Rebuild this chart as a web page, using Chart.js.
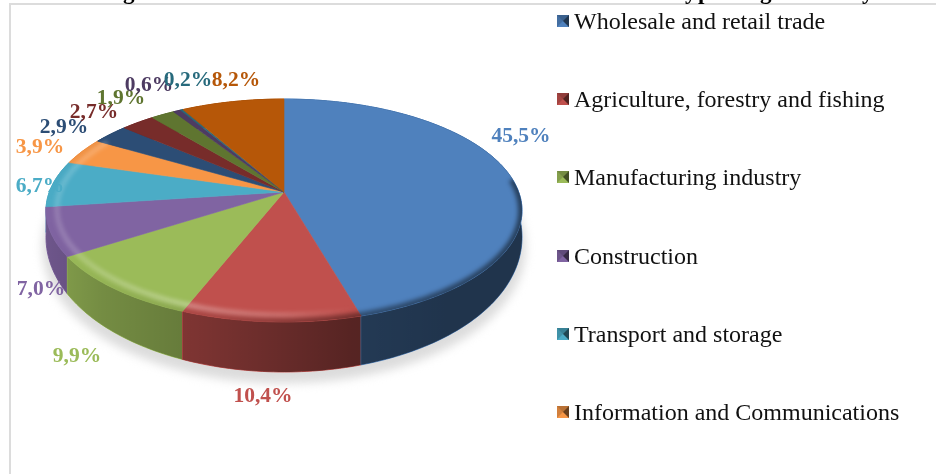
<!DOCTYPE html>
<html>
<head>
<meta charset="utf-8">
<script src="https://cdn.jsdelivr.net/npm/chart.js@4"></script>
<style>
  html, body { margin: 0; padding: 0; background: #fff; }
  #wrap { position: relative; width: 936px; height: 474px; overflow: hidden; font-family: "Liberation Serif", serif; }
  #pie { position: absolute; left: 0; top: 0; }
  #frame { position: absolute; left: 9px; top: 3px; right: -4px; bottom: -4px; border: 2px solid #dcdcdc; }
  .title-bit { position: absolute; font-weight: bold; font-size: 23px; line-height: 23px; color: #000; top: -20px; }
  .legend-row { position: absolute; left: 557px; height: 26px; line-height: 26px; font-size: 24px; color: #111; white-space: nowrap; }
  .legend-row i { position: absolute; left: 0; top: 7px; width: 0; height: 0; border-style: solid; border-width: 6.5px; }
  .legend-row span { position: absolute; left: 17px; top: 0; }
</style>
</head>
<body>
<div id="wrap">
  <canvas id="pie" width="936" height="474"></canvas>
  <div id="frame"></div>
  <div id="legend"></div>
  <div id="titleBits"></div>
</div>
<script>
// legend only shows the first six, the rest of the slices have no readable name
const categories = ["Wholesale and retail trade", "Agriculture, forestry and fishing", "Manufacturing industry",
    "Construction", "Transport and storage", "Information and Communications"];
const shares = [45.5, 10.4, 9.9, 7.0, 6.7, 3.9, 2.9, 2.7, 1.9, 0.6, 0.2, 8.2];
const shareLabels = ["45,5%", "10,4%", "9,9%", "7,0%", "6,7%", "3,9%", "2,9%", "2,7%", "1,9%", "0,6%", "0,2%", "8,2%"];
const colors = ["#4F81BD", "#C0504D", "#9BBB59", "#8064A2", "#4BACC6", "#F79646",
    "#2C4D75", "#772C2A", "#5F7530", "#4D3B62", "#276A7C", "#B65708"];

// where each % label sits (centre of text), the labels were hand placed in the original
const LABEL_POS = [[521, 136], [263, 396], [77, 356], [41, 289], [40, 186], [40, 147],
    [64, 127], [94, 112], [121, 98], [149, 85], [188, 80], [236, 80]];
const LEGEND_TOP = 8, LEGEND_STEP = 78.2;
const TITLE_BITS = [["g", 123], ["y", 685], ["p", 698], ["g", 760], ["y", 862]];

// perspective of the tilted disc
const HUB_X = 284, HUB_Y = 192, SCALE_X = 234.7, SCALE_Y = 108.4, TILT = 0.166;
const WALL_MIN = 22, WALL_GROW = 28;

function project(angle, r) {
    const u = r * Math.cos(angle), v = r * Math.sin(angle);
    const w = 1 - TILT * v;
    return { x: HUB_X + SCALE_X * u / w, y: HUB_Y + SCALE_Y * v / w };
}

function wallDepth(angle) {
    return WALL_MIN + WALL_GROW * Math.max(0, Math.sin(angle));
}

function sweep(a0, a1) {
    const out = [];
    const n = Math.max(2, Math.ceil((a1 - a0) / 0.02));
    for (let i = 0; i <= n; i++) out.push(a0 + (a1 - a0) * i / n);
    return out;
}

function tracePoly(ctx, pts) {
    ctx.beginPath();
    pts.forEach((p, i) => i ? ctx.lineTo(p.x, p.y) : ctx.moveTo(p.x, p.y));
    ctx.closePath();
}

function outline() {
    return sweep(0, Math.PI * 2).map(a => project(a, 1));
}

function drawShadow(ctx) {
    const pts = sweep(0, Math.PI * 2).map(a => {
        const p = project(a, 1.015);
        return { x: p.x, y: p.y + wallDepth(a) + 9 };
    });
    ctx.save();
    ctx.filter = 'blur(5px)';
    ctx.fillStyle = '#dcdcdc';
    tracePoly(ctx, pts);
    ctx.fill();
    ctx.restore();
}

function drawWall(ctx, arc, color) {
    const angles = sweep(arc.startAngle, arc.endAngle);
    const top = angles.map(a => project(a, 1));
    const bottom = angles.map(a => {
        const p = project(a, 1);
        return { x: p.x, y: p.y + wallDepth(a) };
    }).reverse();
    const pts = top.concat(bottom);
    ctx.fillStyle = color;
    ctx.strokeStyle = color;
    tracePoly(ctx, pts);
    ctx.fill();
    ctx.stroke();
    // walls get darker towards the right
    const g = ctx.createLinearGradient(45, 0, 522, 0);
    g.addColorStop(0, 'rgba(0,0,0,0.14)');
    g.addColorStop(0.12, 'rgba(0,0,0,0.25)');
    g.addColorStop(0.33, 'rgba(0,0,0,0.36)');
    g.addColorStop(0.64, 'rgba(0,0,0,0.55)');
    g.addColorStop(0.85, 'rgba(0,0,0,0.60)');
    g.addColorStop(1, 'rgba(0,0,0,0.60)');
    ctx.fillStyle = g;
    ctx.strokeStyle = g;
    tracePoly(ctx, pts);
    ctx.fill();
}

function drawTop(ctx, arc, color) {
    const pts = [{ x: HUB_X, y: HUB_Y }].concat(sweep(arc.startAngle, arc.endAngle).map(a => project(a, 1)));
    ctx.fillStyle = color;
    ctx.strokeStyle = color;
    ctx.lineWidth = 0.6;
    tracePoly(ctx, pts);
    ctx.fill();
    ctx.stroke();
}

function drawBevel(ctx) {
    const angles = sweep(-0.12, Math.PI + 0.55);
    ctx.save();
    tracePoly(ctx, outline());
    ctx.clip();
    ctx.lineCap = 'butt';

    const light = ctx.createLinearGradient(45, 0, 522, 0);
    light.addColorStop(0, 'rgba(255,255,255,0.16)');
    light.addColorStop(0.3, 'rgba(255,255,255,0.32)');
    light.addColorStop(0.5, 'rgba(255,255,255,0.2)');
    light.addColorStop(0.65, 'rgba(255,255,255,0)');
    ctx.filter = 'blur(2px)';
    ctx.strokeStyle = light;
    ctx.lineWidth = 5;
    ctx.beginPath();
    angles.map(a => project(a, 0.955)).forEach((p, i) => i ? ctx.lineTo(p.x, p.y) : ctx.moveTo(p.x, p.y));
    ctx.stroke();

    const dark = ctx.createLinearGradient(45, 0, 522, 0);
    dark.addColorStop(0, 'rgba(0,0,0,0)');
    dark.addColorStop(0.35, 'rgba(0,0,0,0.12)');
    dark.addColorStop(0.65, 'rgba(0,0,0,0.4)');
    dark.addColorStop(1, 'rgba(0,0,0,0.5)');
    ctx.strokeStyle = dark;
    ctx.lineWidth = 8;
    ctx.beginPath();
    angles.map(a => project(a, 1)).forEach((p, i) => i ? ctx.lineTo(p.x, p.y) : ctx.moveTo(p.x, p.y));
    ctx.stroke();
    ctx.restore();
}

const tiltedPie = {
    id: 'tiltedPie',
    beforeDatasetsDraw(chart) {
        const ctx = chart.ctx;
        const arcs = chart.getDatasetMeta(0).data;
        ctx.save();
        drawShadow(ctx);
        // back slices first so the front walls cover them at the left edge
        for (let i = arcs.length - 1; i >= 0; i--) drawWall(ctx, arcs[i], colors[i]);
        arcs.forEach((arc, i) => drawTop(ctx, arc, colors[i]));
        drawBevel(ctx);
        ctx.font = 'bold 21.5px "Liberation Serif"';
        ctx.textAlign = 'center';
        ctx.textBaseline = 'middle';
        shareLabels.forEach((txt, i) => {
            ctx.fillStyle = colors[i];
            ctx.fillText(txt, LABEL_POS[i][0], LABEL_POS[i][1]);
        });
        ctx.restore();
        return false;
    }
};

new Chart(document.getElementById('pie'), {
    type: 'pie',
    data: {
        labels: categories,
        datasets: [{ data: shares, backgroundColor: colors, borderWidth: 0 }]
    },
    options: {
        responsive: false,
        animation: false,
        plugins: { legend: { display: false }, tooltip: { enabled: false } }
    },
    plugins: [tiltedPie]
});

function shade(hex, f) {
    const n = parseInt(hex.slice(1), 16);
    const c = [n >> 16, (n >> 8) & 255, n & 255].map(v => Math.round(v * f));
    return `rgb(${c[0]},${c[1]},${c[2]})`;
}

const legend = document.getElementById('legend');
categories.forEach((name, i) => {
    const c = colors[i];
    legend.innerHTML += `<div class="legend-row" style="top:${LEGEND_TOP + i * LEGEND_STEP}px">
        <i style="border-color:${shade(c, 0.75)} ${shade(c, 0.42)} ${shade(c, 1)} ${shade(c, 0.85)}"></i><span>${name}</span></div>`;
});
const bits = document.getElementById('titleBits');
TITLE_BITS.forEach(([ch, x]) => {
    bits.innerHTML += `<div class="title-bit" style="left:${x}px">${ch}</div>`;
});
</script>
</body>
</html>
